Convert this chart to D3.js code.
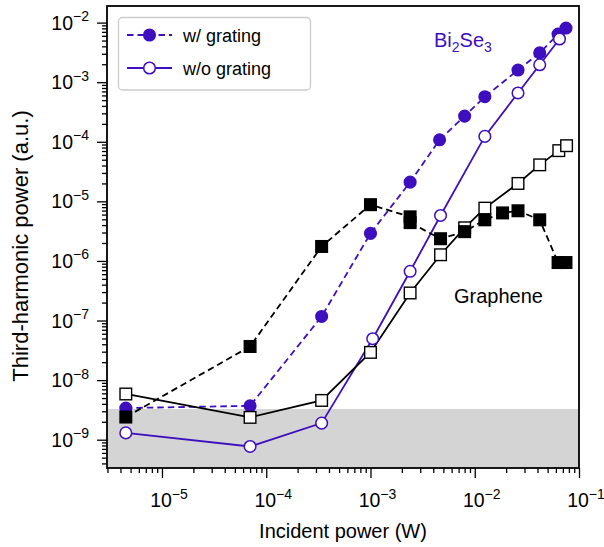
<!DOCTYPE html>
<html>
<head>
<meta charset="utf-8">
<script src="https://cdn.jsdelivr.net/npm/d3@7"></script>
<style>
  html, body { margin: 0; padding: 0; background: #fff; }
  svg { display: block; }
  text { font-family: "Liberation Sans", Arial, Helvetica, sans-serif; }
</style>
</head>
<body>
<svg id="chart" width="604" height="547"></svg>
<script>
// Third-harmonic power versus incident power, Bi2Se3 and graphene, with and without grating

// Bi2Se3 with grating (filled circles, dashed)
const biGratingX = [4.5e-6, 7.0e-5, 3.4e-4, 1.0e-3, 2.4e-3, 4.6e-3, 8.0e-3, 1.25e-2, 2.6e-2, 4.2e-2, 6.3e-2, 7.5e-2];
const biGratingY = [3.4e-9, 3.7e-9, 1.17e-7, 2.9e-6, 2.1e-5, 1.08e-4, 2.7e-4, 5.7e-4, 1.6e-3, 3.1e-3, 6.4e-3, 8.1e-3];

// Bi2Se3 without grating (open circles, solid)
const biBareX = [4.5e-6, 7.0e-5, 3.4e-4, 1.05e-3, 2.4e-3, 4.7e-3, 1.25e-2, 2.6e-2, 4.2e-2, 6.5e-2];
const biBareY = [1.3e-9, 7.7e-10, 1.9e-9, 4.95e-8, 6.7e-7, 5.8e-6, 1.23e-4, 6.6e-4, 1.96e-3, 5.3e-3];

// Graphene with grating (filled squares, dashed)
const grGratingX = [4.5e-6, 7.0e-5, 3.4e-4, 1.0e-3, 2.4e-3, 2.4e-3, 4.7e-3, 8.0e-3, 1.25e-2, 1.85e-2, 2.6e-2, 4.2e-2, 6.3e-2, 7.5e-2];
const grGratingY = [2.4e-9, 3.67e-8, 1.75e-6, 8.8e-6, 5.5e-6, 4.4e-6, 2.36e-6, 3.1e-6, 4.9e-6, 6.4e-6, 6.95e-6, 4.9e-6, 9.4e-7, 9.4e-7];

// Graphene without grating (open squares, solid)
const grBareX = [4.5e-6, 7.0e-5, 3.4e-4, 1.0e-3, 2.4e-3, 4.7e-3, 8.0e-3, 1.25e-2, 2.6e-2, 4.2e-2, 6.4e-2, 7.6e-2];
const grBareY = [5.85e-9, 2.37e-9, 4.56e-9, 2.92e-8, 2.9e-7, 1.27e-6, 3.6e-6, 7.7e-6, 2.0e-5, 4.1e-5, 7.1e-5, 8.6e-5];

// Noise floor
const noiseFloor = 3.27e-9;

// Axis ticks
const xMajorExp = [-5, -4, -3, -2, -1];
const yMajorExp = [-9, -8, -7, -6, -5, -4, -3, -2];
const xDomain = [2.97e-6, 1e-1];
const yDomain = [3.35e-10, 1.9e-2];

const purple = "#3d0fbf";

const svg = d3.select("#chart");
const margin = { left: 107, right: 25, top: 6, bottom: 79 };
const W = 604, H = 547;
const plotW = W - margin.left - margin.right;
const plotH = H - margin.top - margin.bottom;

const x = d3.scaleLog().domain(xDomain).range([margin.left, margin.left + plotW]);
const y = d3.scaleLog().domain(yDomain).range([margin.top + plotH, margin.top]);

function minorTicks(domain) {
  const out = [];
  const lo = Math.floor(Math.log10(domain[0])), hi = Math.ceil(Math.log10(domain[1]));
  for (let e = lo; e <= hi; e++) {
    for (let m = 2; m <= 9; m++) {
      const v = m * Math.pow(10, e);
      if (v >= domain[0] * 0.999 && v <= domain[1] * 1.001) out.push(v);
    }
  }
  return out;
}

// noise floor band
svg.append("rect")
  .attr("x", x(xDomain[0]))
  .attr("y", y(noiseFloor))
  .attr("width", x(xDomain[1]) - x(xDomain[0]))
  .attr("height", y(yDomain[0]) - y(noiseFloor))
  .attr("fill", "#d4d4d4");

// axes
const xMajorVals = xMajorExp.map(e => Math.pow(10, e));
const yMajorVals = yMajorExp.map(e => Math.pow(10, e));

const gx = svg.append("g").attr("transform", `translate(0,${margin.top + plotH})`);
gx.append("g").call(d3.axisBottom(x).tickValues(minorTicks(xDomain)).tickSize(5).tickFormat(""));
gx.append("g").call(d3.axisBottom(x).tickValues(xMajorVals).tickSize(10).tickFormat(""));

const gy = svg.append("g").attr("transform", `translate(${margin.left},0)`);
gy.append("g").call(d3.axisLeft(y).tickValues(minorTicks(yDomain)).tickSize(5).tickFormat(""));
gy.append("g").call(d3.axisLeft(y).tickValues(yMajorVals).tickSize(10).tickFormat(""));

svg.selectAll(".domain").remove();
svg.selectAll(".tick line").attr("stroke", "#000").attr("stroke-width", 1.3);

// tick labels: 10 with superscript exponent
function powerLabel(sel, exp) {
  sel.append("tspan").text("10");
  sel.append("tspan").attr("font-size", 14).attr("dy", -8.5).text("\u2212" + Math.abs(exp));
}

xMajorExp.forEach(e => {
  const t = svg.append("text")
    .attr("x", x(Math.pow(10, e)) + 7)
    .attr("y", 507)
    .attr("text-anchor", "middle")
    .attr("font-size", 19.5)
    .attr("fill", "#000");
  powerLabel(t, e);
});

yMajorExp.forEach(e => {
  const t = svg.append("text")
    .attr("x", 89)
    .attr("y", y(Math.pow(10, e)) + 7)
    .attr("text-anchor", "end")
    .attr("font-size", 19.5)
    .attr("fill", "#000");
  powerLabel(t, e);
});

// axis titles
svg.append("text")
  .attr("x", 343)
  .attr("y", 538)
  .attr("text-anchor", "middle")
  .attr("font-size", 20)
  .text("Incident power (W)");

svg.append("text")
  .attr("transform", "translate(28,246) rotate(-90)")
  .attr("text-anchor", "middle")
  .attr("font-size", 22)
  .text("Third-harmonic power (a.u.)");

// series
function zip(xs, ys) { return xs.map((v, i) => [v, ys[i]]); }
const line = d3.line().x(d => x(d[0])).y(d => y(d[1]));

const series = [
  { data: zip(biGratingX, biGratingY), color: purple, dash: "6.5,4", shape: "circle", filled: true },
  { data: zip(biBareX, biBareY), color: purple, dash: null, shape: "circle", filled: false },
  { data: zip(grBareX, grBareY), color: "#000", dash: null, shape: "square", filled: false },
  { data: zip(grGratingX, grGratingY), color: "#000", dash: "6.5,4", shape: "square", filled: true }
];

const plot = svg.append("g");
series.forEach(s => {
  plot.append("path")
    .datum(s.data)
    .attr("d", line)
    .attr("fill", "none")
    .attr("stroke", s.color)
    .attr("stroke-width", 1.8)
    .attr("stroke-dasharray", s.dash);
});
series.forEach(s => {
  const g = plot.append("g");
  if (s.shape === "circle") {
    g.selectAll("circle").data(s.data).join("circle")
      .attr("cx", d => x(d[0])).attr("cy", d => y(d[1])).attr("r", 5.8)
      .attr("fill", s.filled ? s.color : "#fff")
      .attr("stroke", s.color).attr("stroke-width", 1.5);
  } else {
    const a = 11.6;
    g.selectAll("rect").data(s.data).join("rect")
      .attr("x", d => x(d[0]) - a / 2).attr("y", d => y(d[1]) - a / 2)
      .attr("width", a).attr("height", a)
      .attr("fill", s.filled ? s.color : "#fff")
      .attr("stroke", s.color).attr("stroke-width", 1.4);
  }
});

// frame
svg.append("rect")
  .attr("x", margin.left).attr("y", margin.top)
  .attr("width", plotW).attr("height", plotH)
  .attr("fill", "none").attr("stroke", "#000").attr("stroke-width", 1.8);

// annotations
const bi = svg.append("text").attr("x", 434).attr("y", 47).attr("font-size", 20).attr("fill", purple);
bi.append("tspan").text("Bi");
bi.append("tspan").attr("font-size", 14).attr("dy", 5).text("2");
bi.append("tspan").attr("dy", -5).text("Se");
bi.append("tspan").attr("font-size", 14).attr("dy", 5).text("3");

svg.append("text").attr("x", 454).attr("y", 303).attr("font-size", 20).attr("fill", "#000").text("Graphene");

// legend
const lg = svg.append("g");
lg.append("rect")
  .attr("x", 118.5).attr("y", 17.5).attr("width", 192).attr("height", 72.5)
  .attr("rx", 4).attr("fill", "#fff").attr("fill-opacity", 0.85)
  .attr("stroke", "#cccccc").attr("stroke-width", 1.3);

const legendItems = [
  { label: "w/ grating", dash: "6.5,4", filled: true, yy: 35 },
  { label: "w/o grating", dash: null, filled: false, yy: 68 }
];
legendItems.forEach(it => {
  lg.append("line")
    .attr("x1", 127).attr("x2", 172).attr("y1", it.yy).attr("y2", it.yy)
    .attr("stroke", purple).attr("stroke-width", 1.8).attr("stroke-dasharray", it.dash);
  lg.append("circle")
    .attr("cx", 149.5).attr("cy", it.yy).attr("r", 5.8)
    .attr("fill", it.filled ? purple : "#fff")
    .attr("stroke", purple).attr("stroke-width", 1.5);
  lg.append("text")
    .attr("x", 183).attr("y", it.yy + 6.5)
    .attr("font-size", 18).attr("fill", "#000")
    .text(it.label);
});
</script>
</body>
</html>
